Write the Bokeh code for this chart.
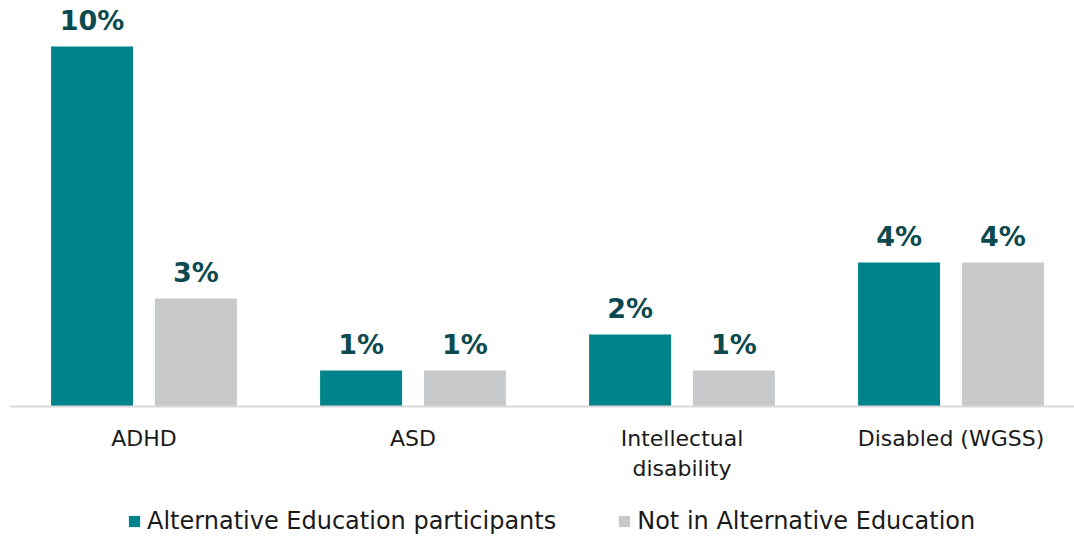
from bokeh.plotting import figure
from bokeh.models import ColumnDataSource, Range1d, Legend, LegendItem, Span
from bokeh.transform import dodge
from bokeh.core.properties import value
from bokeh.embed import file_html
from bokeh.resources import INLINE

categories = ["ADHD", "ASD", "Intellectual\ndisability", "Disabled (WGSS)"]
series_names = ["Alternative Education participants", "Not in Alternative Education"]
alt_ed = [10, 1, 2, 4]
not_alt_ed = [3, 1, 1, 4]

TEAL = "#00838a"
GREY = "#c8c9cb"
LABEL = "#0d4a4f"
FONT = "DejaVu Sans"

idx = list(range(len(categories)))
src = ColumnDataSource(dict(
    x=idx, a=alt_ed, b=not_alt_ed, cat=categories, zero=[0] * len(idx),
    la=[f"{v}%" for v in alt_ed], lb=[f"{v}%" for v in not_alt_ed],
))

PX = 36.0  # pixels per percent
p = figure(width=1074, height=538, output_backend="svg", toolbar_location=None,
           x_range=Range1d(-0.5, -0.5 + 1065 / 269),
           y_range=Range1d(-(538 - 406) / PX, 406 / PX),
           x_axis_location=None, y_axis_location=None,
           min_border_left=9, min_border_right=0,
           min_border_top=0, min_border_bottom=0)
p.outline_line_color = None
p.grid.visible = False
p.background_fill_color = "white"
p.border_fill_color = "white"

off = 0.193
w = 82 / 269
ra = p.vbar(x=dodge("x", -off, range=p.x_range), top="a", bottom=0, width=w, source=src,
            fill_color=TEAL, line_color=None)
rb = p.vbar(x=dodge("x", off, range=p.x_range), top="b", bottom=0, width=w, source=src,
            fill_color=GREY, line_color=None)

p.add_layout(Span(location=0, dimension="width", line_color="#d9d9d9", line_width=2))

for col, lab, o in (("a", "la", -off), ("b", "lb", off)):
    p.text(x=dodge("x", o, range=p.x_range), y=col, text=lab, source=src,
           text_font=value(FONT), text_font_style="bold", text_font_size="27px",
           text_color=LABEL, text_align="center", text_baseline="alphabetic",
           y_offset=-26)

# category labels under the baseline
p.text(x="x", y="zero", text="cat", source=src, text_font=value(FONT),
       text_font_size="22px", text_color="#1a1a1a", text_align="center",
       text_baseline="top", y_offset=19, text_line_height=1.2)

legend = Legend(items=[LegendItem(label=series_names[0], renderers=[ra]),
                       LegendItem(label=series_names[1], renderers=[rb])],
                orientation="horizontal", location=(118, 3),
                label_text_font=FONT, label_text_font_size="24px",
                label_text_color="#1a1a1a", glyph_width=14, glyph_height=14,
                label_standoff=6, spacing=61, border_line_color=None,
                background_fill_alpha=0, margin=0, padding=0)
p.add_layout(legend)

open("out.html", "w").write(file_html(p, INLINE))
